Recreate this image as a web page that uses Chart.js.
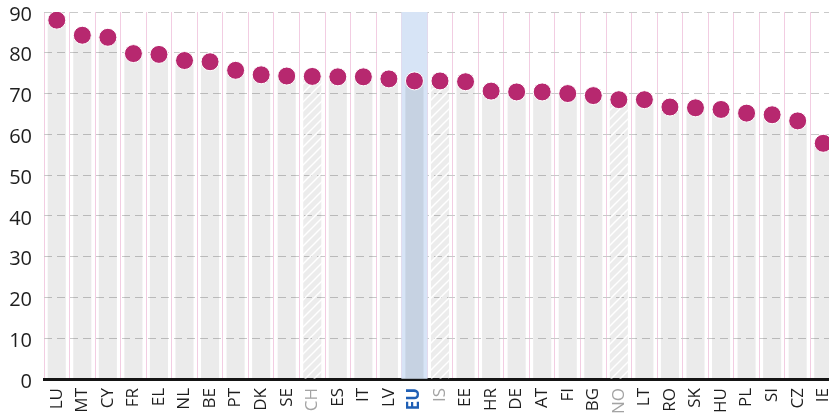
<!DOCTYPE html>
<html>
<head>
<meta charset="utf-8">
<script src="https://cdn.jsdelivr.net/npm/chart.js@4/dist/chart.umd.min.js"></script>
<style>
    html, body { margin: 0; padding: 0; background: #fff; }
    #wrap { width: 829px; height: 416px; overflow: hidden; position: relative; }
    #chart { display: block; }
</style>
</head>
<body>
<div id="wrap"><canvas id="chart" width="846" height="416"></canvas></div>
<script>
const categories = ['LU', 'MT', 'CY', 'FR', 'EL', 'NL', 'BE', 'PT', 'DK', 'SE', 'CH', 'ES', 'IT', 'LV', 'EU',
    'IS', 'EE', 'HR', 'DE', 'AT', 'FI', 'BG', 'NO', 'LT', 'RO', 'SK', 'HU', 'PL', 'SI', 'CZ', 'IE'];
const values = [88.0, 84.3, 83.8, 79.8, 79.6, 78.1, 77.8, 75.7, 74.6, 74.3, 74.2, 74.1, 74.1, 73.6, 73.1,
    73.1, 72.9, 70.6, 70.4, 70.4, 70.0, 69.5, 68.5, 68.5, 66.7, 66.5, 66.1, 65.2, 64.8, 63.3, 57.8];
const yTicks = [0, 10, 20, 30, 40, 50, 60, 70, 80, 90];
const nonEU = ['CH', 'IS', 'NO'];
const average = 'EU';

const FONT = "'Open Sans', sans-serif";

// Hatched fill for the non-EU countries
function makeHatch() {
    const c = document.createElement('canvas');
    c.width = 9; c.height = 9;
    const g = c.getContext('2d');
    g.fillStyle = 'rgba(0,0,0,0.075)';
    g.fillRect(0, 0, 9, 9);
    g.strokeStyle = '#ffffff';
    g.lineWidth = 1.4;
    g.beginPath();
    g.moveTo(-1, 10); g.lineTo(10, -1);
    g.moveTo(-1, 1); g.lineTo(1, -1);
    g.moveTo(8, 10); g.lineTo(10, 8);
    g.stroke();
    return g.createPattern(c, 'repeat');
}

function drawChart() {
    const hatch = makeHatch();
    const yMax = yTicks[yTicks.length - 1];
    const highlight = categories.map(c => c === average ? yMax : null);

    new Chart(document.getElementById('chart'), {
        type: 'bar',
        data: {
            labels: categories,
            datasets: [
                {
                    type: 'line',
                    data: values,
                    showLine: false,
                    pointRadius: 9,
                    pointHoverRadius: 9,
                    pointBackgroundColor: '#b7286f',
                    pointBorderColor: '#ffffff',
                    pointBorderWidth: 1,
                    order: 0,
                },
                {
                    data: values,
                    backgroundColor: categories.map(c => nonEU.includes(c) ? hatch : 'rgba(0,0,0,0.08)'),
                    borderWidth: 0,
                    barPercentage: 0.71,
                    categoryPercentage: 1,
                    grouped: false,
                    order: 1,
                },
                {
                    data: highlight,
                    backgroundColor: '#d7e4f6',
                    borderWidth: 0,
                    barPercentage: 1,
                    categoryPercentage: 1,
                    grouped: false,
                    order: 2,
                },
            ],
        },
        options: {
            responsive: false,
            animation: false,
            layout: { padding: { top: 12, right: 0, bottom: 0, left: 0 } },
            plugins: { legend: { display: false }, tooltip: { enabled: false } },
            scales: {
                x: {
                    offset: true,
                    grid: { color: '#f2cde2', lineWidth: 1, drawTicks: false, offset: true },
                    border: { display: true, color: '#151515', width: 3 },
                    afterFit: (scale) => {
                        scale.height = 37;
                        scale.paddingLeft = 0;
                        scale.paddingRight = 0;
                    },
                    ticks: {
                        autoSkip: false,
                        minRotation: 90,
                        maxRotation: 90,
                        padding: 9,
                        color: (ctx) => {
                            const c = categories[ctx.index];
                            if (c === average) return '#1f5fb5';
                            return nonEU.includes(c) ? '#a3a3a3' : '#1e1e1e';
                        },
                        font: (ctx) => ({
                            family: FONT,
                            size: 17,
                            weight: categories[ctx.index] === average ? 'bold' : 'normal',
                        }),
                    },
                },
                y: {
                    min: 0,
                    max: yMax,
                    afterFit: (scale) => {
                        scale.width = 44;
                        scale.paddingTop = 0;
                        scale.paddingBottom = 0;
                    },
                    afterBuildTicks: (scale) => { scale.ticks = yTicks.map(v => ({ value: v })); },
                    grid: { color: '#c9c9c9', lineWidth: 1, drawTicks: false },
                    border: { display: false, dash: [8, 5] },
                    ticks: {
                        padding: 12,
                        labelOffset: 3,
                        color: '#1e1e1e',
                        font: { family: FONT, size: 20 },
                    },
                },
            },
        },
    });
}

Promise.all([
    document.fonts.load("20px 'Open Sans'"),
    document.fonts.load("bold 17px 'Open Sans'"),
]).then(drawChart, drawChart);
</script>
</body>
</html>
